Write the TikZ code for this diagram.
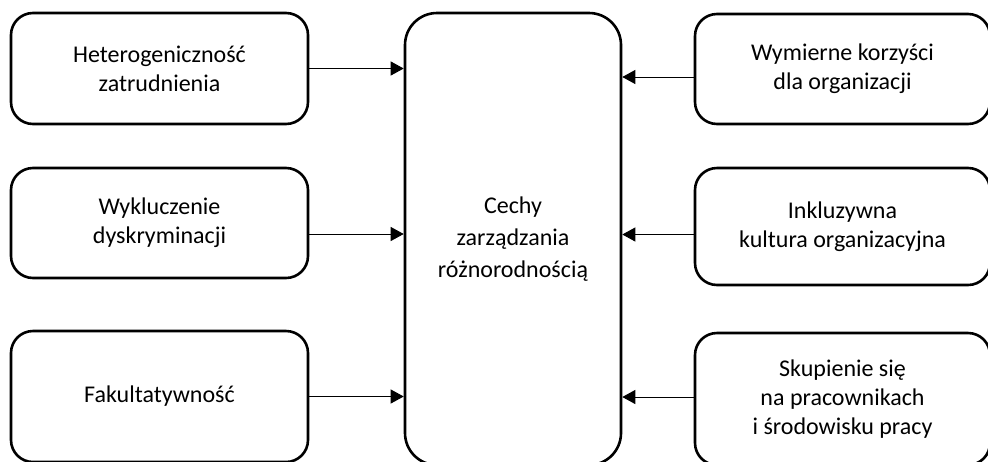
\documentclass[tikz,border=0pt]{standalone}
\usepackage{fontspec}
\setmainfont{Carlito}
\usetikzlibrary{arrows.meta,positioning,calc}

\tikzset{
	cecha/.style={draw, line width=1.3pt, rounded corners=11pt, align=center, inner sep=0pt, minimum width=148.5pt, font=\fontsize{12}{14.5}\selectfont},
	srodek/.style={cecha, rounded corners=16pt, minimum width=108pt, minimum height=226pt, font=\fontsize{12}{15.8}\selectfont},
	strz/.style={line width=0.5pt, -{Triangle[length=6.5pt,width=7pt]}}
}

\begin{document}
\begin{tikzpicture}[x=0.5pt,y=-0.5pt]
				\useasboundingbox (0,0) rectangle (988,461);
				\node[cecha, minimum height=55.5pt] (het) at (159.5,68.5) {Heterogeniczność\\zatrudnienia};
				\node[cecha, minimum height=55pt] (wyk) at (159.5,223) {Wykluczenie\\dyskryminacji};
				\node[cecha, minimum height=65.5pt] (fak) at (159.5,396.5) {Fakultatywność};
				\node[srodek] (cech) at (513,239) {Cechy\\zarządzania\\różnorodnością};
				\node[cecha, minimum width=147.5pt, minimum height=55pt] (wym) at (842.5,69) {Wymierne korzyści\\dla organizacji};
				\node[cecha, minimum width=147.5pt, minimum height=58.5pt] (ink) at (842.5,226.5) {Inkluzywna\\kultura organizacyjna};
				\node[cecha, minimum width=147.5pt, minimum height=66pt] (sku) at (842.5,399) {Skupienie się\\na pracownikach\\i środowisku pracy};
				\draw[strz] (het.east) -- (het.east -| cech.west);
				\draw[strz] ([yshift=-5.5pt]wyk.east) -- ([yshift=-5.5pt]wyk.east -| cech.west);
				\draw[strz] (fak.east) -- (fak.east -| cech.west);
				\draw[strz] ([yshift=-4pt]wym.west) -- ([yshift=-4pt]wym.west -| cech.east);
				\draw[strz] ([yshift=-4pt]ink.west) -- ([yshift=-4pt]ink.west -| cech.east);
				\draw[strz] ([yshift=1pt]sku.west) -- ([yshift=1pt]sku.west -| cech.east);
			\end{tikzpicture}
\end{document}
